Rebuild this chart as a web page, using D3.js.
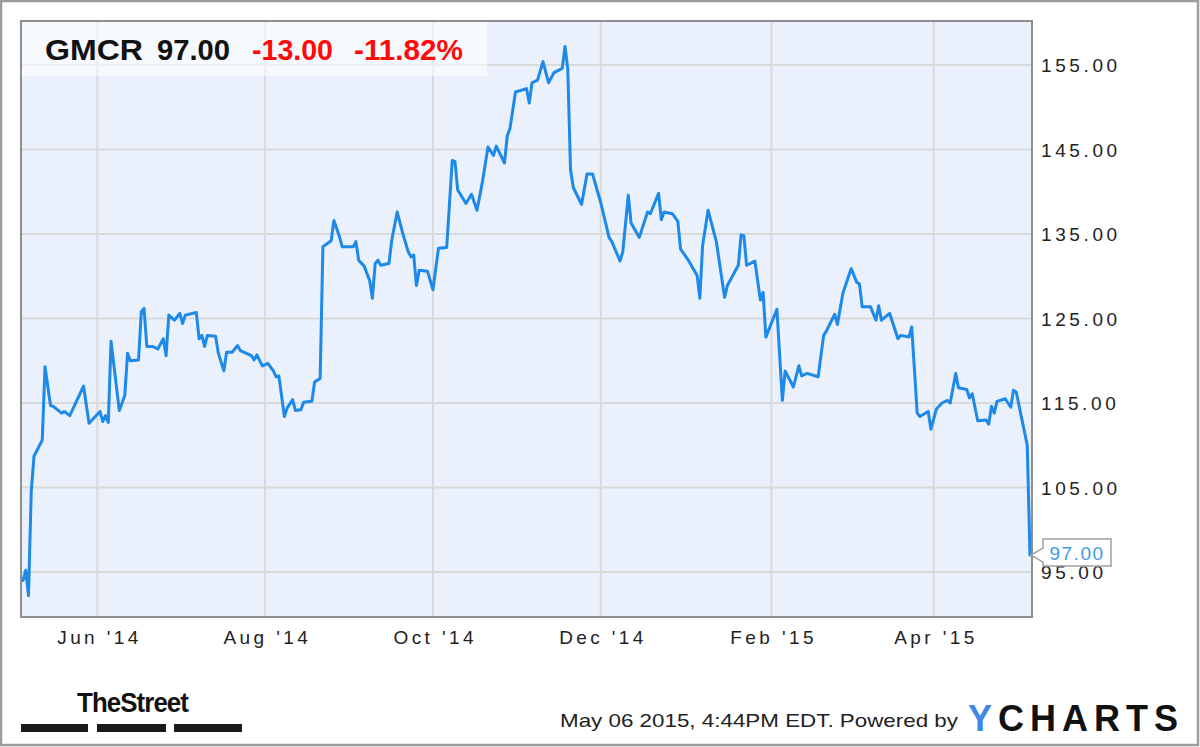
<!DOCTYPE html>
<html><head><meta charset="utf-8">
<script src="https://cdn.jsdelivr.net/npm/d3@7"></script>
<style>
body{margin:0;background:#fff}
svg{display:block}
text{font-family:"Liberation Sans",Arial,Helvetica,sans-serif}
</style>
</head><body>
<svg id="chart" width="1200" height="747"></svg>
<script>
// ---- data ----
const dates = [
"2014-05-05","2014-05-06","2014-05-07","2014-05-08","2014-05-09","2014-05-12","2014-05-13","2014-05-15","2014-05-16","2014-05-19",
"2014-05-20","2014-05-22","2014-05-27","2014-05-29","2014-06-02","2014-06-03","2014-06-04","2014-06-05","2014-06-06","2014-06-09",
"2014-06-11","2014-06-12","2014-06-13","2014-06-16","2014-06-17","2014-06-18","2014-06-19","2014-06-21","2014-06-23","2014-06-25",
"2014-06-26","2014-06-27","2014-06-29","2014-07-01","2014-07-02","2014-07-03","2014-07-07","2014-07-08","2014-07-09","2014-07-10",
"2014-07-11","2014-07-14","2014-07-15","2014-07-17","2014-07-18","2014-07-20","2014-07-22","2014-07-23","2014-07-27","2014-07-28",
"2014-07-29","2014-07-31","2014-08-02","2014-08-04","2014-08-05","2014-08-06","2014-08-08","2014-08-09","2014-08-11","2014-08-12",
"2014-08-14","2014-08-15","2014-08-18","2014-08-19","2014-08-21","2014-08-22","2014-08-25","2014-08-26","2014-08-28","2014-08-29",
"2014-09-02","2014-09-03","2014-09-04","2014-09-06","2014-09-08","2014-09-09","2014-09-10","2014-09-11","2014-09-12","2014-09-15",
"2014-09-16","2014-09-18","2014-09-20","2014-09-22","2014-09-23","2014-09-24","2014-09-25","2014-09-26","2014-09-29","2014-10-01",
"2014-10-03","2014-10-06","2014-10-08","2014-10-09","2014-10-10","2014-10-13","2014-10-15","2014-10-17","2014-10-19","2014-10-21",
"2014-10-23","2014-10-24","2014-10-27","2014-10-28","2014-10-29","2014-10-31","2014-11-04","2014-11-05","2014-11-06","2014-11-08",
"2014-11-10","2014-11-12","2014-11-14","2014-11-17","2014-11-18","2014-11-19","2014-11-20","2014-11-21","2014-11-24","2014-11-26",
"2014-11-28","2014-12-01","2014-12-04","2014-12-05","2014-12-08","2014-12-09","2014-12-11","2014-12-12","2014-12-15","2014-12-18",
"2014-12-19","2014-12-22","2014-12-23","2014-12-24","2014-12-27","2014-12-29","2014-12-30","2015-01-01","2015-01-02","2015-01-05",
"2015-01-06","2015-01-07","2015-01-09","2015-01-12","2015-01-15","2015-01-16","2015-01-20","2015-01-21","2015-01-22","2015-01-23",
"2015-01-26","2015-01-28","2015-01-29","2015-01-30","2015-02-03","2015-02-05","2015-02-06","2015-02-09","2015-02-11","2015-02-12",
"2015-02-14","2015-02-18","2015-02-20","2015-02-21","2015-02-24","2015-02-25","2015-02-27","2015-03-02","2015-03-04","2015-03-05",
"2015-03-06","2015-03-09","2015-03-11","2015-03-12","2015-03-13","2015-03-16","2015-03-19","2015-03-20","2015-03-23","2015-03-24",
"2015-03-26","2015-03-27","2015-03-30","2015-03-31","2015-04-02","2015-04-04","2015-04-06","2015-04-07","2015-04-09","2015-04-10",
"2015-04-13","2015-04-14","2015-04-15","2015-04-17","2015-04-20","2015-04-21","2015-04-22","2015-04-23","2015-04-24","2015-04-27",
"2015-04-29","2015-04-30","2015-05-01","2015-05-05","2015-05-06"
];
const prices = [
94.0,95.2,92.2,104.5,108.7,110.6,119.3,114.7,114.6,113.8,
114.0,113.5,117.0,112.6,114.0,112.8,113.5,112.7,122.3,114.1,
115.9,120.9,120.0,120.1,125.8,126.2,121.7,121.7,121.4,122.6,
120.6,125.4,124.8,125.6,124.4,125.4,125.7,122.6,123.0,121.7,
123.0,122.9,120.9,118.8,121.0,121.0,121.8,121.2,120.6,120.1,
120.7,119.4,119.7,118.8,118.1,118.2,113.4,114.4,115.4,114.1,
114.2,115.1,115.2,117.5,117.9,133.5,134.2,136.6,134.7,133.5,
133.5,134.1,131.9,131.2,129.5,127.4,131.5,131.9,131.3,131.5,
134.2,137.6,135.1,132.9,132.3,132.5,128.9,130.7,130.6,128.4,
133.3,133.4,143.7,143.6,140.2,138.6,139.7,137.8,141.2,145.3,
144.3,145.4,143.4,146.6,147.5,151.8,152.2,150.5,152.9,153.2,
155.4,152.9,154.1,154.6,157.2,154.5,142.6,140.5,138.5,142.1,
142.1,138.7,134.6,134.1,131.8,132.9,139.6,136.3,134.6,137.6,
137.4,139.8,136.7,137.6,137.4,136.5,133.2,132.3,131.8,130.1,
127.4,133.6,137.8,134.1,127.5,128.9,131.3,134.9,134.8,131.3,
131.8,127.2,128.1,122.8,126.1,115.3,118.8,116.9,119.4,118.2,
118.5,118.1,123.0,123.5,125.5,124.3,128.0,130.9,129.3,129.1,
126.4,126.4,124.8,126.5,124.8,125.6,122.6,123.0,122.8,124.0,
113.8,113.4,114.0,111.9,114.3,115.0,115.3,115.0,118.5,116.8,
116.6,115.6,116.1,112.9,113.0,112.5,114.6,113.8,115.2,115.5,
114.5,116.5,116.3,110.0,97.0
];
const yTicks = [95,105,115,125,135,145,155];
const xTickDates = ["2014-06-01","2014-08-01","2014-10-01","2014-12-01","2015-02-01","2015-04-01"];
const xTickLabels = ["Jun '14","Aug '14","Oct '14","Dec '14","Feb '15","Apr '15"];
const headerTicker = "GMCR";
const headerPrice = "97.00";
const headerChange = "-13.00";
const headerPct = "-11.82%";
const lastLabel = "97.00";
const footerText = "May 06 2015, 4:44PM EDT.  Powered by";

// ---- layout ----
const svg = d3.select("#chart");
const W = 1200, H = 747;
const plot = {l:21, t:21, r:1032, b:617};
const parse = d3.utcParse("%Y-%m-%d");
const data = dates.map((d,i)=>({date:parse(d), v:prices[i]}));

const x = d3.scaleUtc().domain([parse("2014-05-05"), parse("2015-05-06")]).range([23, 1030]);
const y = d3.scaleLinear().domain([95,155]).range([572, 65]);

// outer frame
svg.append("rect").attr("x",1).attr("y",1).attr("width",W-3).attr("height",H-3)
  .attr("fill","#fff").attr("stroke","#9c9c9c").attr("stroke-width",2.5);

// plot background
svg.append("rect").attr("x",plot.l).attr("y",plot.t).attr("width",plot.r-plot.l).attr("height",plot.b-plot.t)
  .attr("fill","#eaf1fc");

// grid
const g = svg.append("g");
g.selectAll("line.h").data(yTicks).join("line")
  .attr("x1",plot.l).attr("x2",plot.r).attr("y1",d=>y(d)).attr("y2",d=>y(d))
  .attr("stroke","#d9d9d9").attr("stroke-width",2);
g.selectAll("line.v").data(xTickDates).join("line")
  .attr("x1",d=>x(parse(d))).attr("x2",d=>x(parse(d))).attr("y1",plot.t).attr("y2",plot.b)
  .attr("stroke","#d9d9d9").attr("stroke-width",2);

// header box
svg.append("rect").attr("x",plot.l+1).attr("y",plot.t+1).attr("width",465).attr("height",54)
  .attr("fill","#ffffff").attr("opacity",0.55);

// line
const line = d3.line().x(d=>x(d.date)).y(d=>y(d.v));
svg.append("path").datum(data).attr("d",line)
  .attr("fill","none").attr("stroke","#1d89e8").attr("stroke-width",3)
  .attr("stroke-linejoin","round").attr("stroke-linecap","round");

// plot frame
svg.append("rect").attr("x",plot.l).attr("y",plot.t).attr("width",plot.r-plot.l).attr("height",plot.b-plot.t)
  .attr("fill","none").attr("stroke","#8e8e8e").attr("stroke-width",2);

// y axis labels (right)
const yAxis = d3.axisRight(y).tickValues(yTicks).tickFormat(d3.format(".2f")).tickSize(0).tickPadding(0);
const ya = svg.append("g").attr("transform",`translate(${plot.r+9},0)`).call(yAxis);
ya.select(".domain").remove();
ya.selectAll("text").attr("font-size",19).attr("fill","#222").attr("letter-spacing","3.6px")
  .attr("font-family","'Liberation Sans',Arial,sans-serif").attr("dy","0.35em");

// x axis labels
const xAxis = d3.axisBottom(x).tickValues(xTickDates.map(parse))
  .tickFormat((d,i)=>xTickLabels[i]).tickSize(0).tickPadding(0);
const xa = svg.append("g").attr("transform",`translate(0,${plot.b+27})`).call(xAxis);
xa.select(".domain").remove();
xa.selectAll("text").attr("font-size",19).attr("fill","#222").attr("letter-spacing","3.4px")
  .attr("font-family","'Liberation Sans',Arial,sans-serif").attr("dy","0").attr("dx","1.7");

// header text
const ht = svg.append("g").attr("font-weight","bold").attr("font-size",30);
ht.append("text").attr("x",45).attr("y",60).attr("fill","#111").attr("textLength",98).attr("lengthAdjust","spacingAndGlyphs").text(headerTicker);
ht.append("text").attr("x",157).attr("y",60).attr("fill","#111").attr("textLength",73).attr("lengthAdjust","spacingAndGlyphs").text(headerPrice);
ht.append("text").attr("x",252).attr("y",60).attr("fill","#ff0a0a").attr("textLength",81).attr("lengthAdjust","spacingAndGlyphs").text(headerChange);
ht.append("text").attr("x",354).attr("y",60).attr("fill","#ff0a0a").attr("textLength",109).attr("lengthAdjust","spacingAndGlyphs").text(headerPct);

// last value callout
const last = data[data.length-1];
const lx = x(last.date), ly = y(last.v);
const cb = {x:lx+13, y:ly-16, w:68, h:27};
svg.append("path")
  .attr("d",`M${cb.x},${cb.y} H${cb.x+cb.w} V${cb.y+cb.h} H${cb.x} V${ly+7} L${lx+1},${ly} L${cb.x},${ly-7} Z`)
  .attr("fill","#fff").attr("stroke","#a0a0a0").attr("stroke-width",1.5);
svg.append("text").attr("x",cb.x+cb.w/2).attr("y",ly-2).attr("dy","0.36em").attr("text-anchor","middle")
  .attr("font-size",19).attr("fill","#3d9bea").attr("letter-spacing","1.5px").text(lastLabel);

// footer: TheStreet logo
svg.append("text").attr("x",77).attr("y",712).attr("font-size",28).attr("font-weight","bold")
  .attr("font-family","'Liberation Sans Narrow','Liberation Sans',Arial,sans-serif")
  .attr("fill","#111").attr("textLength",111).attr("lengthAdjust","spacingAndGlyphs").attr("letter-spacing","-1px").text("TheStreet");
const bars = [[21,88],[97,166],[174,242]];
svg.selectAll("rect.bar").data(bars).join("rect").attr("class","bar")
  .attr("x",d=>d[0]).attr("y",724).attr("width",d=>d[1]-d[0]).attr("height",8).attr("fill","#1a1a1a");

// footer: timestamp and YCharts
svg.append("text").attr("x",560).attr("y",727).attr("font-size",19).attr("fill","#222")
  .attr("textLength",398).attr("lengthAdjust","spacingAndGlyphs").text(footerText);
const yc = svg.append("text").attr("x",968).attr("y",731).attr("font-size",36).attr("font-weight","bold")
  .attr("textLength",210).attr("lengthAdjust","spacing");
yc.append("tspan").attr("fill","#3f86e8").text("Y");
yc.append("tspan").attr("fill","#111").text("CHARTS");
</script>
</body></html>
